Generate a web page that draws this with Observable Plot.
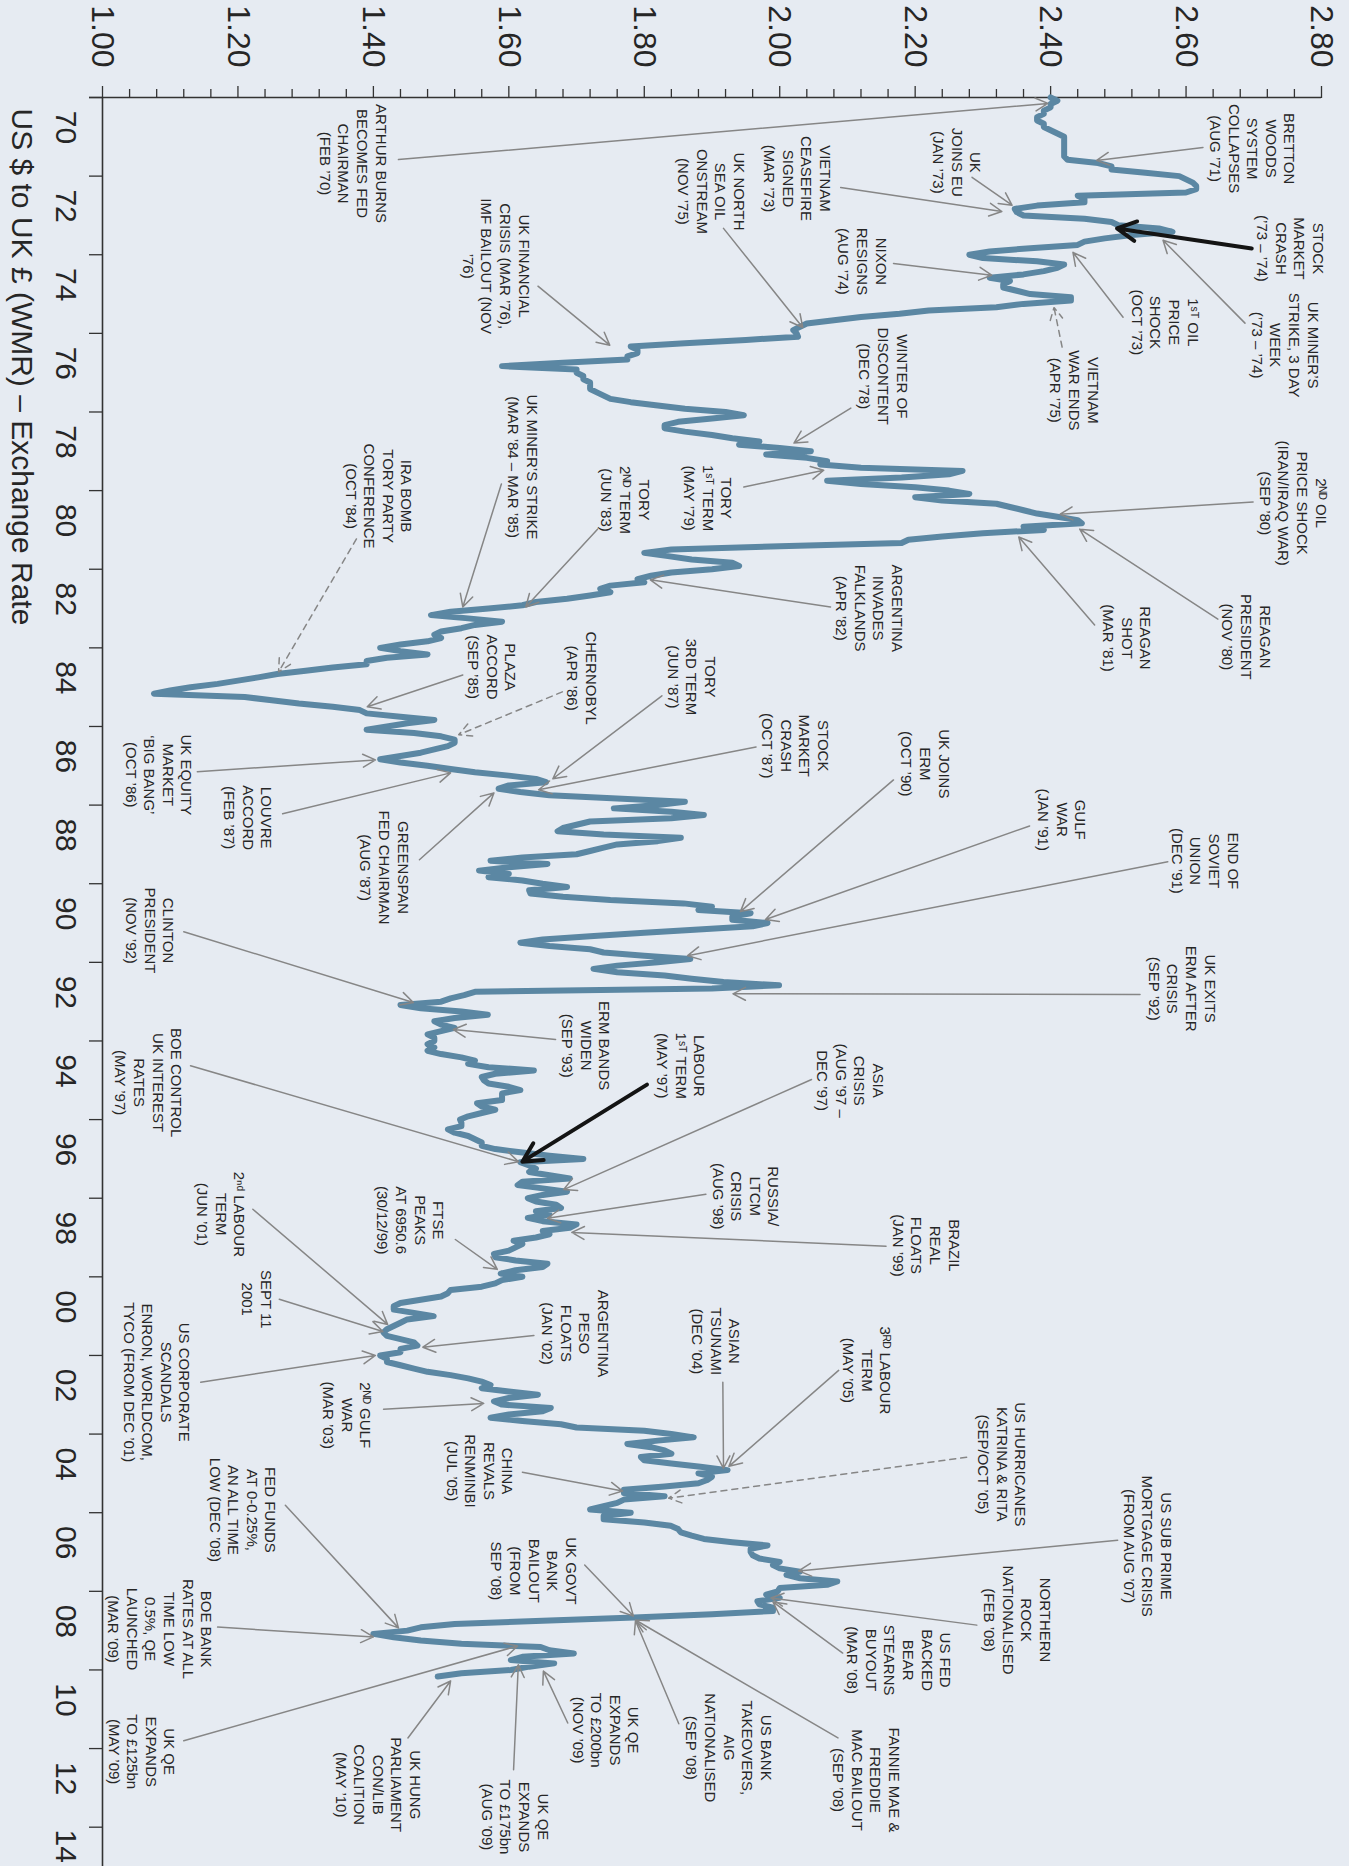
<!DOCTYPE html>
<html>
<head>
<meta charset="utf-8">
<script src="https://cdn.jsdelivr.net/npm/d3@7"></script>
<script src="https://cdn.jsdelivr.net/npm/@observablehq/plot@0.6"></script>
<style>
  html, body { margin: 0; padding: 0; background: #e6ebf2; }
  #chart svg { display: block; }
</style>
</head>
<body>
<div id="chart"></div>
<script>
// ---------- DATA ----------
const startYear = 1970; // first month: Jan 1970, one value per month
const rates1970s = [
  2.40, 2.41, 2.40, 2.40, 2.39, 2.39, 2.38, 2.38, 2.39, 2.39, 2.40, 2.41,
  2.42, 2.42, 2.42, 2.42, 2.42, 2.42, 2.42, 2.425, 2.47, 2.49, 2.49, 2.54,
  2.59, 2.60, 2.61, 2.615, 2.615, 2.60, 2.44, 2.45, 2.45, 2.38, 2.347, 2.35,
  2.36, 2.45, 2.49, 2.50, 2.56, 2.58, 2.52, 2.48, 2.45, 2.44, 2.37, 2.31,
  2.28, 2.30, 2.38, 2.42, 2.41, 2.39, 2.36, 2.31, 2.34, 2.33, 2.33, 2.35,
  2.37, 2.43, 2.43, 2.36, 2.32, 2.22, 2.177, 2.12, 2.08, 2.04, 2.03, 2.02,
  2.025, 2.027, 1.95, 1.86, 1.78, 1.79, 1.79, 1.775, 1.775, 1.68, 1.59, 1.70,
  1.70, 1.71, 1.71, 1.72, 1.72, 1.72, 1.73, 1.74, 1.75, 1.78, 1.82, 1.86,
  1.92, 1.947, 1.90, 1.85, 1.83, 1.83, 1.86, 1.90, 1.93, 1.97, 1.94, 2.00,
  2.046, 1.98, 2.04, 2.07, 2.06, 2.12, 2.27, 2.25, 2.18, 2.07, 2.12, 2.20
];
const rates1980s = [
  2.25, 2.28, 2.20, 2.24, 2.32, 2.34, 2.36, 2.38, 2.41, 2.44, 2.446, 2.36,
  2.39, 2.30, 2.24, 2.19, 2.18, 2.00, 1.84, 1.80, 1.835, 1.87, 1.93, 1.94,
  1.90, 1.84, 1.81, 1.79, 1.80, 1.75, 1.735, 1.75, 1.72, 1.686, 1.64, 1.62,
  1.57, 1.514, 1.485, 1.54, 1.59, 1.55, 1.53, 1.50, 1.49, 1.50, 1.48, 1.44,
  1.41, 1.44, 1.48, 1.42, 1.39, 1.39, 1.34, 1.30, 1.258, 1.23, 1.20, 1.17,
  1.13, 1.10, 1.076, 1.21, 1.25, 1.29, 1.34, 1.38, 1.39, 1.44, 1.49, 1.45,
  1.42, 1.39, 1.46, 1.50, 1.52, 1.52, 1.51, 1.49, 1.47, 1.44, 1.41, 1.44,
  1.48, 1.514, 1.55, 1.60, 1.64, 1.655, 1.60, 1.585, 1.617, 1.66, 1.76, 1.86,
  1.82, 1.755, 1.84, 1.888, 1.84, 1.72, 1.70, 1.68, 1.672, 1.74, 1.854, 1.82,
  1.76, 1.74, 1.72, 1.70, 1.62, 1.573, 1.657, 1.60, 1.556, 1.60, 1.57, 1.62
];
const rates1990s = [
  1.65, 1.686, 1.63, 1.632, 1.68, 1.75, 1.858, 1.90, 1.88, 1.957, 1.93, 1.93,
  1.982, 1.96, 1.88, 1.80, 1.72, 1.65, 1.617, 1.66, 1.72, 1.74, 1.80, 1.868,
  1.82, 1.76, 1.725, 1.76, 1.83, 1.87, 1.917, 1.999, 1.90, 1.55, 1.534, 1.514,
  1.50, 1.44, 1.47, 1.53, 1.569, 1.52, 1.49, 1.50, 1.52, 1.50, 1.48, 1.49,
  1.49, 1.48, 1.49, 1.48, 1.50, 1.53, 1.55, 1.54, 1.57, 1.637, 1.58, 1.56,
  1.563, 1.57, 1.60, 1.617, 1.59, 1.59, 1.59, 1.553, 1.56, 1.58, 1.56, 1.54,
  1.528, 1.53, 1.53, 1.51, 1.52, 1.54, 1.55, 1.56, 1.56, 1.58, 1.617, 1.66,
  1.71, 1.617, 1.63, 1.64, 1.63, 1.66, 1.69, 1.62, 1.613, 1.65, 1.686, 1.65,
  1.628, 1.64, 1.67, 1.677, 1.64, 1.66, 1.628, 1.65, 1.70, 1.69, 1.65, 1.66,
  1.64, 1.607, 1.62, 1.61, 1.60, 1.578, 1.58, 1.61, 1.657, 1.65, 1.61, 1.588
];
const rates2000s = [
  1.62, 1.59, 1.58, 1.56, 1.514, 1.51, 1.50, 1.47, 1.44, 1.43, 1.43, 1.46,
  1.489, 1.45, 1.44, 1.43, 1.42, 1.415, 1.42, 1.44, 1.46, 1.465, 1.44, 1.44,
  1.41, 1.42, 1.42, 1.44, 1.46, 1.48, 1.514, 1.54, 1.56, 1.573, 1.56, 1.60,
  1.643, 1.60, 1.578, 1.59, 1.662, 1.65, 1.60, 1.573, 1.62, 1.677, 1.70, 1.80,
  1.84, 1.873, 1.82, 1.775, 1.81, 1.83, 1.84, 1.795, 1.80, 1.84, 1.883, 1.923,
  1.88, 1.90, 1.893, 1.88, 1.83, 1.77, 1.77, 1.83, 1.77, 1.76, 1.74, 1.72,
  1.78, 1.74, 1.74, 1.80, 1.839, 1.85, 1.854, 1.87, 1.888, 1.93, 1.982, 1.957,
  1.957, 1.96, 1.97, 2.00, 1.99, 2.00, 2.03, 2.01, 2.03, 2.085, 2.07, 2.00,
  1.997, 1.98, 2.00, 1.967, 1.97, 1.99, 1.99, 1.90, 1.785, 1.65, 1.52, 1.47,
  1.45, 1.40, 1.43, 1.47, 1.53, 1.647, 1.66, 1.696, 1.62, 1.603, 1.667, 1.63
];
const rates2010s = [1.603, 1.53, 1.495];

const rateTicks = [1.00, 1.20, 1.40, 1.60, 1.80, 2.00, 2.20, 2.40, 2.60, 2.80];
const rateMinorTicks = d3.range(1.04, 2.8, 0.04).filter(v => Math.abs(Math.round(v / 0.2) * 0.2 - v) > 1e-6);
const yearTicks = d3.range(1970, 2015, 2);
const yearLabels = ["70","72","74","76","78","80","82","84","86","88","90","92","94","96","98","00","02","04","06","08","10","12","14"];
const title = "US $ to UK £ (WMR) – Exchange Rate";

// Annotations: label anchor (lx, ly), arrow start (ax, ay), arrow tip (tx, ty) in rate / year units
const annotations = [
  {text: "ARTHUR BURNS\nBECOMES FED\nCHAIRMAN\n(FEB ’70)", lx: 1.371, ly: 1971.68, ax: 1.437, ay: 1971.58, tx: 2.396, ty: 1970.15, kind: "solid"},
  {text: "VIETNAM\nCEASEFIRE\nSIGNED\n(MAR ’73)", lx: 2.027, ly: 1972.06, ax: 2.090, ay: 1972.29, tx: 2.328, ty: 1972.90, kind: "solid"},
  {text: "UK\nJOINS EU\n(JAN ’73)", lx: 2.263, ly: 1971.65, ax: 2.284, ay: 1972.03, tx: 2.343, ty: 1972.74, kind: "solid"},
  {text: "BRETTON\nWOODS\nSYSTEM\nCOLLAPSES\n(AUG ’71)", lx: 2.699, ly: 1971.30, ax: 2.625, ay: 1971.27, tx: 2.468, ty: 1971.60, kind: "solid"},
  {text: "STOCK\nMARKET\nCRASH\n(’73 – ’74)", lx: 2.755, ly: 1973.84, ax: 2.697, ay: 1973.84, tx: 2.498, ty: 1973.33, kind: "black"},
  {text: "UK MINER’S\nSTRIKE, 3 DAY\nWEEK\n(’73 – ’74)", lx: 2.747, ly: 1976.30, ax: 2.687, ay: 1975.74, tx: 2.566, ty: 1973.63, kind: "solid"},
  {text: "1ˢᵀ OIL\nPRICE\nSHOCK\n(OCT ’73)", lx: 2.570, ly: 1975.72, ax: 2.507, ay: 1975.59, tx: 2.433, ty: 1973.94, kind: "solid"},
  {text: "VIETNAM\nWAR ENDS\n(APR ’75)", lx: 2.436, ly: 1977.45, ax: 2.417, ay: 1976.35, tx: 2.405, ty: 1975.34, kind: "dashed"},
  {text: "NIXON\nRESIGNS\n(AUG ’74)", lx: 2.123, ly: 1974.17, ax: 2.168, ay: 1974.22, tx: 2.313, ty: 1974.52, kind: "solid"},
  {text: "UK NORTH\nSEA OIL\nONSTREAM\n(NOV ’75)", lx: 1.900, ly: 1972.39, ax: 1.917, ay: 1973.33, tx: 2.034, ty: 1975.85, kind: "solid"},
  {text: "UK FINANCIAL\nCRISIS (MAR ’76),\nIMF BAILOUT (NOV\n’76)", lx: 1.582, ly: 1974.29, ax: 1.643, ay: 1974.80, tx: 1.749, ty: 1976.30, kind: "solid"},
  {text: "WINTER OF\nDISCONTENT\n(DEC ’78)", lx: 2.154, ly: 1977.09, ax: 2.105, ay: 1977.90, tx: 2.021, ty: 1978.79, kind: "solid"},
  {text: "TORY\n1ˢᵀ TERM\n(MAY ’79)", lx: 1.895, ly: 1980.19, ax: 1.947, ay: 1979.91, tx: 2.065, ty: 1979.48, kind: "solid"},
  {text: "TORY\n2ᴺᴰ TERM\n(JUN ’83)", lx: 1.773, ly: 1980.24, ax: 1.731, ay: 1980.98, tx: 1.625, ty: 1982.96, kind: "solid"},
  {text: "UK MINER’S STRIKE\n(MAR ’84 – MAR ’85)", lx: 1.622, ly: 1979.40, ax: 1.589, ay: 1979.83, tx: 1.532, ty: 1982.96, kind: "solid"},
  {text: "IRA BOMB\nTORY PARTY\nCONFERENCE\n(OCT ’84)", lx: 1.409, ly: 1980.14, ax: 1.375, ay: 1981.23, tx: 1.260, ty: 1984.61, kind: "dashed"},
  {text: "ARGENTINA\nINVADES\nFALKLANDS\n(APR ’82)", lx: 2.133, ly: 1982.99, ax: 2.075, ay: 1982.96, tx: 1.809, ty: 1982.27, kind: "solid"},
  {text: "2ᴺᴰ OIL\nPRICE SHOCK\n(IRAN/IRAQ WAR)\n(SEP ’80)", lx: 2.759, ly: 1980.32, ax: 2.699, ay: 1980.29, tx: 2.414, ty: 1980.60, kind: "solid"},
  {text: "REAGAN\nPRESIDENT\n(NOV ’80)", lx: 2.690, ly: 1983.72, ax: 2.647, ay: 1983.27, tx: 2.443, ty: 1980.98, kind: "solid"},
  {text: "REAGAN\nSHOT\n(MAR ’81)", lx: 2.514, ly: 1983.75, ax: 2.465, ay: 1983.42, tx: 2.353, ty: 1981.18, kind: "solid"},
  {text: "UK JOINS\nERM\n(OCT ’90)", lx: 2.216, ly: 1986.95, ax: 2.168, ay: 1987.36, tx: 1.942, ty: 1990.71, kind: "solid"},
  {text: "GULF\nWAR\n(JAN ’91)", lx: 2.418, ly: 1988.37, ax: 2.369, ay: 1988.53, tx: 1.979, ty: 1990.91, kind: "solid"},
  {text: "END OF\nSOVIET\nUNION\n(DEC ’91)", lx: 2.629, ly: 1989.42, ax: 2.573, ay: 1989.44, tx: 1.864, ty: 1991.83, kind: "solid"},
  {text: "UK EXITS\nERM AFTER\nCRISIS\n(SEP ’92)", lx: 2.595, ly: 1992.67, ax: 2.532, ay: 1992.82, tx: 1.931, ty: 1992.80, kind: "solid"},
  {text: "CLINTON\nPRESIDENT\n(NOV ’92)", lx: 1.071, ly: 1991.19, ax: 1.120, ay: 1991.22, tx: 1.459, ty: 1993.02, kind: "solid"},
  {text: "ERM BANDS\nWIDEN\n(SEP ’93)", lx: 1.715, ly: 1994.12, ax: 1.669, ay: 1993.96, tx: 1.518, ty: 1993.71, kind: "solid"},
  {text: "LABOUR\n1ˢᵀ TERM\n(MAY ’97)", lx: 1.855, ly: 1994.63, ax: 1.804, ay: 1995.11, tx: 1.620, ty: 1997.07, kind: "black"},
  {text: "ASIA\nCRISIS\n(AUG ’97 –\nDEC ’97)", lx: 2.105, ly: 1995.01, ax: 2.047, ay: 1994.98, tx: 1.681, ty: 1997.78, kind: "solid"},
  {text: "RUSSIA/\nLTCM\nCRISIS\n(AUG ’98)", lx: 1.951, ly: 1997.95, ax: 1.891, ay: 1997.90, tx: 1.657, ty: 1998.51, kind: "solid"},
  {text: "BRAZIL\nREAL\nFLOATS\n(JAN ’99)", lx: 2.217, ly: 1999.20, ax: 2.157, ay: 1999.22, tx: 1.693, ty: 1998.87, kind: "solid"},
  {text: "BOE CONTROL\nUK INTEREST\nRATES\n(MAY ’97)", lx: 1.069, ly: 1995.06, ax: 1.130, ay: 1994.63, tx: 1.614, ty: 1997.07, kind: "solid"},
  {text: "FTSE\nPEAKS\nAT 6950.6\n(30/12/99)", lx: 1.456, ly: 1998.56, ax: 1.521, ay: 1999.05, tx: 1.583, ty: 1999.81, kind: "solid"},
  {text: "2ⁿᵈ LABOUR\nTERM\n(JUN ’01)", lx: 1.176, ly: 1998.41, ax: 1.222, ay: 1998.28, tx: 1.421, ty: 2001.21, kind: "solid"},
  {text: "SEPT 11\n2001", lx: 1.229, ly: 2000.57, ax: 1.261, ay: 2000.57, tx: 1.414, ty: 2001.39, kind: "solid"},
  {text: "US CORPORATE\nSCANDALS\nENRON, WORLDCOM,\nTYCO (FROM DEC ’01)", lx: 1.081, ly: 2002.68, ax: 1.145, ay: 2002.68, tx: 1.403, ty: 2002.00, kind: "solid"},
  {text: "ARGENTINA\nPESO\nFLOATS\n(JAN ’02)", lx: 1.699, ly: 2001.44, ax: 1.637, ay: 2001.49, tx: 1.473, ty: 2001.79, kind: "solid"},
  {text: "2ᴺᴰ GULF\nWAR\n(MAR ’03)", lx: 1.362, ly: 2003.52, ax: 1.415, ay: 2003.37, tx: 1.563, ty: 2003.22, kind: "solid"},
  {text: "CHINA\nREVALS\nRENMINBI\n(JUL ’05)", lx: 1.558, ly: 2004.94, ax: 1.620, ay: 2004.97, tx: 1.768, ty: 2005.45, kind: "solid"},
  {text: "ASIAN\nTSUNAMI\n(DEC ’04)", lx: 1.907, ly: 2001.64, ax: 1.916, ay: 2002.68, tx: 1.917, ty: 2004.87, kind: "solid"},
  {text: "3ᴿᴰ LABOUR\nTERM\n(MAY ’05)", lx: 2.130, ly: 2002.38, ax: 2.087, ay: 2002.38, tx: 1.925, ty: 2004.82, kind: "solid"},
  {text: "US HURRICANES\nKATRINA & RITA\n(SEP/OCT ’05)", lx: 2.329, ly: 2004.77, ax: 2.276, ay: 2004.59, tx: 1.836, ty: 2005.63, kind: "dashed"},
  {text: "US SUB PRIME\nMORTGAGE CRISIS\n(FROM AUG ’07)", lx: 2.544, ly: 2006.85, ax: 2.499, ay: 2006.70, tx: 2.028, ty: 2007.48, kind: "solid"},
  {text: "NORTHERN\nROCK\nNATIONALISED\n(FEB ’08)", lx: 2.352, ly: 2008.73, ax: 2.291, ay: 2008.86, tx: 1.987, ty: 2008.17, kind: "solid"},
  {text: "US FED\nBACKED\nBEAR\nSTEARNS\nBUYOUT\n(MAR ’08)", lx: 2.177, ly: 2009.75, ax: 2.093, ay: 2009.57, tx: 1.990, ty: 2008.27, kind: "solid"},
  {text: "FANNIE MAE &\nFREDDIE\nMAC BAILOUT\n(SEP ’08)", lx: 2.129, ly: 2012.80, ax: 2.086, ay: 2011.73, tx: 1.787, ty: 2008.73, kind: "solid"},
  {text: "US BANK\nTAKEOVERS,\nAIG\nNATIONALISED\n(SEP ’08)", lx: 1.926, ly: 2011.98, ax: 1.851, ay: 2011.37, tx: 1.787, ty: 2008.75, kind: "solid"},
  {text: "UK GOVT\nBANK\nBAILOUT\n(FROM\nSEP ’08)", lx: 1.638, ly: 2007.48, ax: 1.712, ay: 2007.33, tx: 1.784, ty: 2008.63, kind: "solid"},
  {text: "UK QE\nEXPANDS\nTO £200bn\n(NOV ’09)", lx: 1.744, ly: 2011.53, ax: 1.687, ay: 2011.35, tx: 1.651, ty: 2010.03, kind: "solid"},
  {text: "UK QE\nEXPANDS\nTO £175bn\n(AUG ’09)", lx: 1.610, ly: 2013.74, ax: 1.607, ay: 2012.54, tx: 1.614, ty: 2009.87, kind: "solid"},
  {text: "UK HUNG\nPARLIAMENT\nCON/LIB\nCOALITION\n(MAY ’10)", lx: 1.408, ly: 2012.92, ax: 1.451, ay: 2011.73, tx: 1.514, ty: 2010.28, kind: "solid"},
  {text: "UK QE\nEXPANDS\nTO £125bn\n(MAY ’09)", lx: 1.059, ly: 2012.08, ax: 1.120, ay: 2011.80, tx: 1.613, ty: 2009.39, kind: "solid"},
  {text: "BOE BANK\nRATES AT ALL\nTIME LOW\n0.5%, QE\nLAUNCHED\n(MAR ’09)", lx: 1.086, ly: 2008.96, ax: 1.170, ay: 2008.91, tx: 1.400, ty: 2009.16, kind: "solid"},
  {text: "FED FUNDS\nAT 0-0.25%,\nAN ALL TIME\nLOW (DEC ’08)", lx: 1.208, ly: 2005.93, ax: 1.270, ay: 2005.81, tx: 1.437, ty: 2008.93, kind: "solid"},
  {text: "PLAZA\nACCORD\n(SEP ’85)", lx: 1.576, ly: 1984.49, ax: 1.532, ay: 1984.69, tx: 1.391, ty: 1985.50, kind: "solid"},
  {text: "CHERNOBYL\n(APR ’86)", lx: 1.709, ly: 1984.77, ax: 1.679, ay: 1985.12, tx: 1.526, ty: 1986.21, kind: "dashed"},
  {text: "TORY\n3RD TERM\n(JUN ’87)", lx: 1.871, ly: 1984.74, ax: 1.826, ay: 1985.22, tx: 1.665, ty: 1987.33, kind: "solid"},
  {text: "STOCK\nMARKET\nCRASH\n(OCT ’87)", lx: 2.024, ly: 1986.49, ax: 1.965, ay: 1986.52, tx: 1.644, ty: 1987.61, kind: "solid"},
  {text: "UK EQUITY\nMARKET\n‘BIG BANG’\n(OCT ’86)", lx: 1.084, ly: 1987.23, ax: 1.140, ay: 1987.15, tx: 1.403, ty: 1986.85, kind: "solid"},
  {text: "LOUVRE\nACCORD\n(FEB ’87)", lx: 1.216, ly: 1988.32, ax: 1.266, ay: 1988.22, tx: 1.514, ty: 1987.18, kind: "solid"},
  {text: "GREENSPAN\nFED CHAIRMAN\n(AUG ’87)", lx: 1.417, ly: 1989.59, ax: 1.468, ay: 1989.39, tx: 1.578, ty: 1987.69, kind: "solid"}
];

// ---------- BUILD ----------
const monthly = [...rates1970s, ...rates1980s, ...rates1990s, ...rates2000s, ...rates2010s];
const series = monthly.map((rate, i) => ({date: startYear + i / 12, rate}));

const font = "'Liberation Sans', Arial, Helvetica, sans-serif";
const ink = "#262626";
const axisInk = "#333333";
const arrowGrey = "#868686";
const yearLabel = d => yearLabels[yearTicks.indexOf(d)];
const lastYear = yearTicks[yearTicks.length - 1];

const chart = Plot.plot({
  width: 1349,
  height: 1866,
  marginLeft: 102,
  marginRight: 28,
  marginTop: 97,
  marginBottom: 0,
  style: {background: "#e6ebf2", fontFamily: font, color: ink, overflow: "visible"},
  x: {type: "linear", domain: [1.0, 2.8], label: null},
  y: {type: "linear", domain: [1970, 2015], reverse: true, label: null},
  marks: [
    // axes
    Plot.axisX(rateMinorTicks, {anchor: "top", tickSize: 9, stroke: axisInk, strokeWidth: 1.3, tickFormat: () => "", label: null}),
    Plot.axisX(rateTicks, {anchor: "top", tickSize: 12, tickPadding: 18, tickRotate: 90,
      textAnchor: "end", lineAnchor: "middle", fontSize: 32, fontFamily: font, fill: ink,
      stroke: axisInk, strokeWidth: 1.3, tickFormat: d3.format(".2f"), label: null}),
    Plot.axisY(yearTicks, {anchor: "left", tickSize: 13, stroke: axisInk, strokeWidth: 1.3, tickFormat: () => "", label: null}),
    Plot.axisY(yearTicks.filter(d => d !== lastYear), {anchor: "left", tickSize: 0, tickPadding: 25, tickRotate: 90,
      textAnchor: "middle", lineAnchor: "top", fontSize: 30, fontFamily: font, fill: ink, dy: 30,
      tickFormat: yearLabel, label: null}),
    // the last label sits a little higher so it stays inside the frame, as in the reference
    Plot.axisY([lastYear], {anchor: "left", tickSize: 0, tickPadding: 25, tickRotate: 90,
      textAnchor: "middle", lineAnchor: "top", fontSize: 30, fontFamily: font, fill: ink, dy: 19,
      tickFormat: yearLabel, label: null}),
    Plot.ruleY([1970], {stroke: axisInk, strokeWidth: 1.6, insetLeft: -13}),
    Plot.ruleX([1.0], {stroke: axisInk, strokeWidth: 1.6}),
    Plot.text([title], {frameAnchor: "top-left", dx: -69, dy: 11, rotate: 90,
      textAnchor: "start", lineAnchor: "top", fontSize: 30, fontFamily: font, fill: ink}),

    // exchange-rate line
    Plot.line(series, {x: "rate", y: "date", stroke: "#5b87a3", strokeWidth: 6,
      strokeLinejoin: "round", strokeLinecap: "round"}),

    // annotation arrows
    Plot.arrow(annotations.filter(d => d.kind === "solid"), {x1: "ax", y1: "ay", x2: "tx", y2: "ty",
      stroke: arrowGrey, strokeWidth: 1.5, headLength: 14, headAngle: 55}),
    Plot.arrow(annotations.filter(d => d.kind === "dashed"), {x1: "ax", y1: "ay", x2: "tx", y2: "ty",
      stroke: arrowGrey, strokeWidth: 1.5, headLength: 14, headAngle: 55, strokeDasharray: "6,5"}),
    Plot.arrow(annotations.filter(d => d.kind === "black"), {x1: "ax", y1: "ay", x2: "tx", y2: "ty",
      stroke: "#141414", strokeWidth: 4, headLength: 8, headAngle: 55}),

    // annotation labels
    Plot.text(annotations, {x: "lx", y: "ly", text: "text", rotate: 90,
      textAnchor: "middle", lineAnchor: "middle", lineHeight: 1.24,
      fontSize: 15, fontFamily: font, fill: ink})
  ]
});

document.getElementById("chart").appendChild(chart);
</script>
</body>
</html>
